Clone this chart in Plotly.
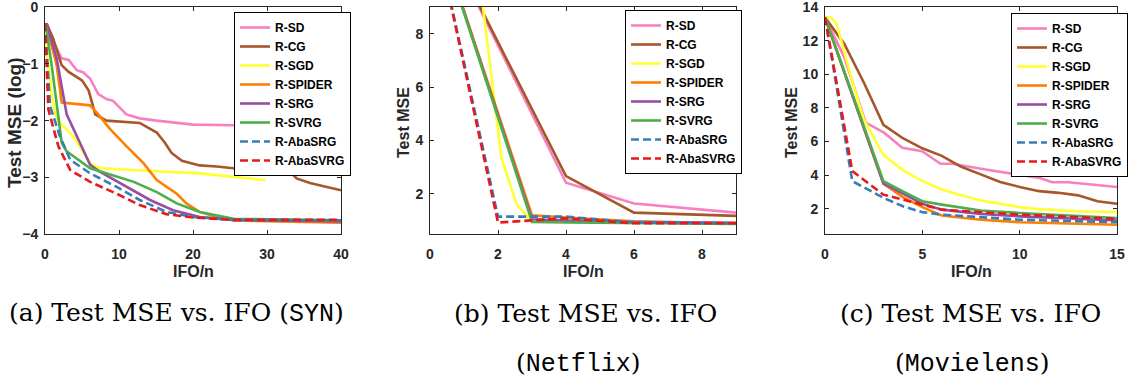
import plotly.graph_objects as go

# ---------------- data ----------------
methods = ["R-SD", "R-CG", "R-SGD", "R-SPIDER", "R-SRG", "R-SVRG", "R-AbaSRG", "R-AbaSVRG"]
colors = ["#f781bf", "#a65628", "#ffff33", "#ff7f00", "#984ea3", "#4daf4a", "#377eb8", "#e41a1c"]
dashes = ["solid", "solid", "solid", "solid", "solid", "solid", "8px,4px", "8px,4px"]

# (a) SYN : Test MSE (log)
syn_sd_x = [0.2, 1.1, 2.25, 3.2, 4.3, 5.2, 6.1, 7.2, 8.3, 9.2, 11, 12.8, 15.1, 20, 25.5, 30, 35, 39, 40]
syn_sd_y = [-0.28, -0.6, -0.9, -0.93, -1.11, -1.15, -1.26, -1.53, -1.62, -1.65, -1.89, -1.96, -2.0, -2.07, -2.08, -2.12, -2.25, -2.4, -2.42]
syn_cg_x = [0.2, 1.1, 2.25, 3.2, 5.0, 5.9, 6.8, 7.2, 8.3, 12.8, 14.0, 15.1, 16.2, 17.1, 18.5, 20.9, 23.2, 27.7, 33.1, 34.0, 35.8, 40]
syn_cg_y = [-0.28, -0.55, -1.02, -1.14, -1.29, -1.47, -1.89, -1.92, -2.0, -2.04, -2.13, -2.21, -2.39, -2.57, -2.71, -2.79, -2.81, -2.87, -2.9, -3.02, -3.1, -3.23]
syn_sgd_x = [0, 0.3, 0.9, 1.58, 3.8, 6.1, 7.4, 14.2, 20.9, 29.8]
syn_sgd_y = [-0.3, -0.8, -1.56, -1.98, -2.27, -2.75, -2.84, -2.88, -2.93, -3.05]
syn_spider_x = [0.2, 1.58, 2.26, 2.93, 6.1, 7.2, 8.8, 11, 13.3, 15.1, 17.8, 19.1, 20.9, 23.2, 25.5, 40]
syn_spider_y = [-0.31, -1.02, -1.68, -1.69, -1.73, -1.89, -2.15, -2.45, -2.75, -3.05, -3.29, -3.46, -3.61, -3.7, -3.76, -3.8]
syn_srg_x = [0.2, 1.58, 2.93, 6.1, 7.4, 11, 14.2, 17.3, 20.9, 25.5, 40]
syn_srg_y = [-0.3, -0.9, -1.89, -2.78, -2.9, -3.17, -3.4, -3.58, -3.7, -3.75, -3.78]
syn_svrg_x = [0.1, 0.9, 2.26, 2.93, 6.1, 11, 12, 15.1, 17.8, 20.9, 25.5, 40]
syn_svrg_y = [-0.3, -1.02, -2.39, -2.54, -2.84, -3.05, -3.08, -3.26, -3.46, -3.61, -3.73, -3.76]
syn_abasrg_x = [0, 0.68, 2.0, 3.4, 6.1, 9.7, 12.8, 16.4, 20, 25.5, 40]
syn_abasrg_y = [-0.28, -1.74, -2.27, -2.69, -2.93, -3.17, -3.4, -3.61, -3.7, -3.75, -3.76]
syn_abasvrg_x = [0, 0.45, 1.8, 3.4, 6.1, 9.7, 12.8, 16.4, 20, 25.5, 40]
syn_abasvrg_y = [-0.28, -1.8, -2.45, -2.87, -3.08, -3.29, -3.49, -3.65, -3.71, -3.75, -3.75]

# (b) Netflix : Test MSE
nf_sd_x = [0, 4, 6, 9]
nf_sd_y = [12.7, 2.42, 1.64, 1.3]
nf_cg_x = [0, 4, 6, 9]
nf_cg_y = [12.7, 2.67, 1.3, 1.18]
nf_sgd_x = [0, 1.5, 2.1, 2.55, 2.9, 3, 4, 6, 9]
nf_sgd_y = [12.7, 9.6, 3.36, 1.6, 1.1, 1.0, 0.97, 0.95, 0.93]
nf_spider_x = [0, 3, 4, 6, 9]
nf_spider_y = [12.7, 1.2, 1.12, 0.98, 0.9]
nf_srg_x = [0, 3, 4, 6, 9]
nf_srg_y = [12.7, 1.05, 1.0, 0.95, 0.92]
nf_svrg_x = [0, 3, 4, 6, 9]
nf_svrg_y = [12.7, 0.95, 0.93, 0.9, 0.88]
nf_abasrg_x = [0, 2, 4, 6, 9]
nf_abasrg_y = [12.7, 1.15, 1.15, 0.93, 0.9]
nf_abasvrg_x = [0, 2, 3, 4, 6, 9]
nf_abasvrg_y = [12.7, 0.93, 1.01, 1.09, 0.9, 0.9]

# (c) Movielens : Test MSE
ml_sd_x = [0, 1, 2.09, 3.03, 3.97, 4.99, 5.93, 6.53, 8.24, 9.95, 11, 11.66, 12.5, 15]
ml_sd_y = [13.4, 11.0, 7.13, 6.53, 5.63, 5.43, 4.68, 4.68, 4.34, 4.04, 3.84, 3.58, 3.58, 3.3]
ml_cg_x = [0, 1, 2, 3, 4, 5, 6, 7, 8, 9, 10, 11, 12, 13, 14, 15]
ml_cg_y = [13.4, 11.8, 9.5, 7.0, 6.2, 5.6, 5.15, 4.5, 4.05, 3.6, 3.3, 3.05, 2.95, 2.8, 2.45, 2.3]
ml_sgd_x = [0, 0.3, 0.6, 1.5, 2, 3, 4, 5, 6, 7, 8, 9, 10, 11, 12, 13, 14, 15]
ml_sgd_y = [13.4, 13.4, 13.0, 9.2, 7.3, 5.2, 4.3, 3.65, 3.15, 2.8, 2.5, 2.3, 2.1, 1.98, 1.9, 1.85, 1.82, 1.8]
ml_spider_x = [0, 3, 4, 5, 6, 8, 10, 15]
ml_spider_y = [13.4, 3.5, 2.7, 2.1, 1.6, 1.35, 1.2, 1.05]
ml_srg_x = [0, 3, 4, 5, 6, 8, 10, 15]
ml_srg_y = [13.4, 3.5, 2.9, 2.3, 1.95, 1.7, 1.55, 1.3]
ml_svrg_x = [0, 3, 4, 5, 6, 8, 10, 15]
ml_svrg_y = [13.4, 3.65, 3.04, 2.45, 2.25, 1.9, 1.75, 1.45]
ml_abasrg_x = [0, 1.4, 3, 4, 5, 6, 10, 15]
ml_abasrg_y = [13.4, 3.65, 2.65, 2.15, 1.8, 1.65, 1.35, 1.2]
ml_abasvrg_x = [0, 1.4, 3, 4, 5, 6, 10, 15]
ml_abasvrg_y = [13.4, 4.25, 2.84, 2.55, 2.25, 1.95, 1.65, 1.4]

panels = [
    [(syn_sd_x, syn_sd_y), (syn_cg_x, syn_cg_y), (syn_sgd_x, syn_sgd_y), (syn_spider_x, syn_spider_y),
     (syn_srg_x, syn_srg_y), (syn_svrg_x, syn_svrg_y), (syn_abasrg_x, syn_abasrg_y), (syn_abasvrg_x, syn_abasvrg_y)],
    [(nf_sd_x, nf_sd_y), (nf_cg_x, nf_cg_y), (nf_sgd_x, nf_sgd_y), (nf_spider_x, nf_spider_y),
     (nf_srg_x, nf_srg_y), (nf_svrg_x, nf_svrg_y), (nf_abasrg_x, nf_abasrg_y), (nf_abasvrg_x, nf_abasvrg_y)],
    [(ml_sd_x, ml_sd_y), (ml_cg_x, ml_cg_y), (ml_sgd_x, ml_sgd_y), (ml_spider_x, ml_spider_y),
     (ml_srg_x, ml_srg_y), (ml_svrg_x, ml_svrg_y), (ml_abasrg_x, ml_abasrg_y), (ml_abasvrg_x, ml_abasvrg_y)],
]

x_ranges = [[0, 40], [0, 9], [0, 15]]
y_ranges = [[-4, 0.005], [0.5, 9], [0.5, 14.01]]
x_ticks = [[0, 10, 20, 30, 40], [0, 2, 4, 6, 8], [0, 5, 10, 15]]
y_ticks = [[-4, -3, -2, -1, 0], [2, 4, 6, 8], [2, 4, 6, 8, 10, 12, 14]]
y_titles = ["Test MSE (log)", "Test MSE", "Test MSE"]
x_title = "IFO/n"
MONO = "Liberation Mono"
caption_line1 = [
    "(a) Test MSE vs. IFO (<span style='font-family:%s'>SYN</span>)" % MONO,
    "(b) Test MSE vs. IFO",
    "(c) Test MSE vs. IFO",
]
caption_line2 = [
    "",
    "(<span style='font-family:%s'>Netflix</span>)" % MONO,
    "(<span style='font-family:%s'>Movielens</span>)" % MONO,
]

# ---------------- layout geometry ----------------
W, H = 1128, 382
x_doms_px = [(45, 341), (430, 736), (825, 1117)]
y_dom_px = (7, 234)
legend_pos_px = [(234, 12), (625, 10), (1011, 13)]
ytitle_x_px = [15, 404, 792]
ytitle_size = [19, 16, 16]
caption_cx_px = [176, 585, 970]
caption2_cx_px = [176, 578, 972]
caption_cy_px = (313, 363)

SANS = "Liberation Sans, Arial, sans-serif"
AX = "#262626"

fig = go.Figure()
for p in range(3):
    sfx = "" if p == 0 else str(p + 1)
    for i, name in enumerate(methods):
        xs, ys = panels[p][i]
        fig.add_trace(go.Scatter(
            x=xs, y=ys, mode="lines", name=name,
            line=dict(color=colors[i], width=2.6, dash=dashes[i]),
            xaxis="x" + sfx, yaxis="y" + sfx,
            legend="legend" + sfx,
        ))

layout = dict(
    width=W, height=H,
    margin=dict(l=0, r=0, t=0, b=0, autoexpand=False),
    paper_bgcolor="white", plot_bgcolor="white",
    showlegend=True,
)
annotations = []
for p in range(3):
    sfx = "" if p == 0 else str(p + 1)
    x0, x1 = x_doms_px[p]
    common = dict(
        showline=True, linecolor=AX, linewidth=1, mirror="ticks",
        ticks="inside", ticklen=4, tickcolor=AX, tickwidth=1,
        showgrid=False, zeroline=False, ticklabeloverflow="allow", automargin=False,
        tickfont=dict(family=SANS, size=14, color="#262626", weight="bold"),
    )
    layout["xaxis" + sfx] = dict(
        common, domain=[x0 / W, x1 / W], range=x_ranges[p], tickvals=x_ticks[p],
        anchor="y" + sfx, ticklabelstandoff=7,
    )
    layout["yaxis" + sfx] = dict(
        common, domain=[1 - y_dom_px[1] / H, 1 - y_dom_px[0] / H], range=y_ranges[p],
        tickvals=y_ticks[p], anchor="x" + sfx, ticklabelstandoff=3,
    )
    lx, ly = legend_pos_px[p]
    layout["legend" + sfx] = dict(
        x=lx / W, y=1 - ly / H, xanchor="left", yanchor="top",
        bgcolor="white", bordercolor="#000000", borderwidth=1,
        font=dict(family=SANS, size=12, color="#000000", weight="bold"),
        tracegroupgap=0,
    )
    annotations.append(dict(
        text=y_titles[p], x=ytitle_x_px[p] / W, y=1 - 123 / H, xref="paper", yref="paper",
        textangle=-90, showarrow=False, xanchor="center", yanchor="middle",
        font=dict(family=SANS, size=ytitle_size[p], color="#262626", weight="bold"),
    ))
    annotations.append(dict(
        text=x_title, x=(x0 + x1) / 2 / W, y=1 - 271 / H, xref="paper", yref="paper",
        showarrow=False, xanchor="center", yanchor="middle",
        font=dict(family=SANS, size=16, color="#262626", weight="bold"),
    ))
    annotations.append(dict(
        text=caption_line1[p], x=caption_cx_px[p] / W, y=1 - caption_cy_px[0] / H,
        xref="paper", yref="paper", showarrow=False, xanchor="center", yanchor="middle",
        font=dict(family="DejaVu Serif", size=25, color="#000000"),
    ))
    if caption_line2[p]:
        annotations.append(dict(
            text=caption_line2[p], x=caption2_cx_px[p] / W, y=1 - caption_cy_px[1] / H,
            xref="paper", yref="paper", showarrow=False, xanchor="center", yanchor="middle",
            font=dict(family="DejaVu Serif", size=25, color="#000000"),
        ))
layout["annotations"] = annotations
fig.update_layout(**layout)
fig.write_html("out.html")
